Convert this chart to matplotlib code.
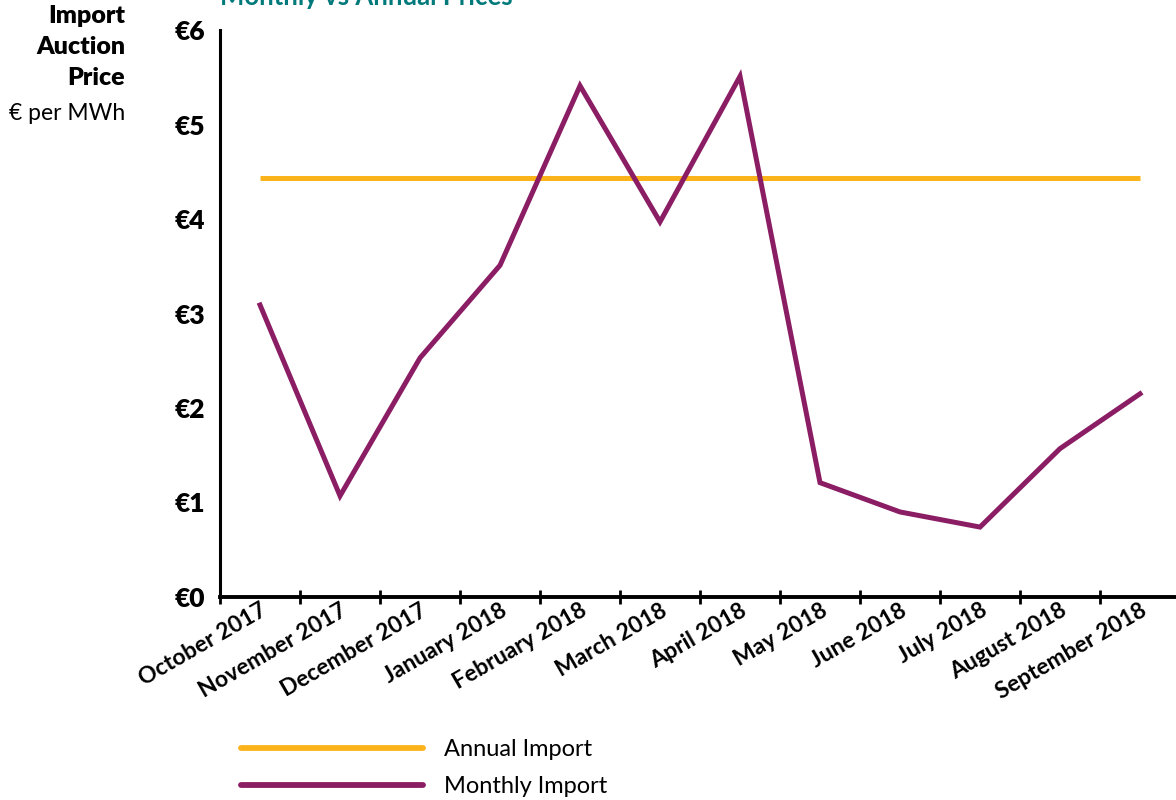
import numpy as np
import matplotlib.pyplot as plt

# Data
months = ['October 2017', 'November 2017', 'December 2017', 'January 2018',
          'February 2018', 'March 2018', 'April 2018', 'May 2018',
          'June 2018', 'July 2018', 'August 2018', 'September 2018']
monthly_import = [3.09, 1.07, 2.53, 3.51, 5.41, 3.97, 5.51, 1.21, 0.90, 0.74, 1.57, 2.15]
annual_import = [4.43] * len(months)
y_ticks = [0, 1, 2, 3, 4, 5, 6]

orange = '#FBB31B'
purple = '#8B1D64'
teal = '#00797A'

plt.rcParams['font.family'] = ['Lato', 'DejaVu Sans']

fig = plt.figure(figsize=(11.76, 8), dpi=100)
ax = fig.add_axes([0.1871, 0.25375, 0.8163, 0.70875])

x = np.arange(len(months))
ax.plot(x, annual_import, color=orange, lw=3.6, solid_capstyle='butt', label='Annual Import')
ax.plot(x, monthly_import, color=purple, lw=3.6, solid_joinstyle='miter', label='Monthly Import')

ax.set_xlim(-0.5, len(months) - 0.5)
ax.set_ylim(0, 6)

# category ticks at boundaries, labels at centers
ax.set_xticks(np.arange(len(months) + 1) - 0.5)
ax.set_xticklabels([])
ax.set_xticks(x, minor=True)
ax.set_xticklabels(months, minor=True, rotation=30, ha='right', rotation_mode='anchor',
                   fontsize=16.5, fontweight='bold')
ax.tick_params(axis='x', which='major', direction='inout', length=10, width=2)
ax.tick_params(axis='x', which='minor', length=0, pad=2)
ax.set_yticks(y_ticks)
ax.set_yticklabels(['€%d' % v for v in y_ticks], fontsize=19, fontweight='heavy')
ax.tick_params(axis='y', length=0, pad=11)

for s in ['top', 'right']:
    ax.spines[s].set_visible(False)
ax.spines['left'].set_linewidth(2.2)
ax.spines['bottom'].set_linewidth(2.8)

# axis title at the top left
fig.text(125 / 1176, 1 - 5 / 800, 'Import\nAuction\nPrice', ha='right', va='top',
         fontsize=18, fontweight='heavy', linespacing=1.5)
fig.text(125 / 1176, 1 - 113 / 800, '€ per MWh', ha='right', va='center', fontsize=16.5)

# chart title, cut off at the top
fig.text(220 / 1176, 1 + 3 / 800, 'Monthly vs Annual Prices', ha='left', va='center',
         fontsize=18.5, fontweight='bold', color=teal)

fig.legend(loc='upper left', bbox_to_anchor=(220 / 1176, 1 - 718 / 800), frameon=False,
           fontsize=17, handlelength=7.7, handletextpad=0.9, labelspacing=0.68)
for h in fig.legends[0].get_lines():
    h.set_linewidth(4.2)
    h.set_solid_capstyle('round')

fig.savefig('out.png', dpi=100)
